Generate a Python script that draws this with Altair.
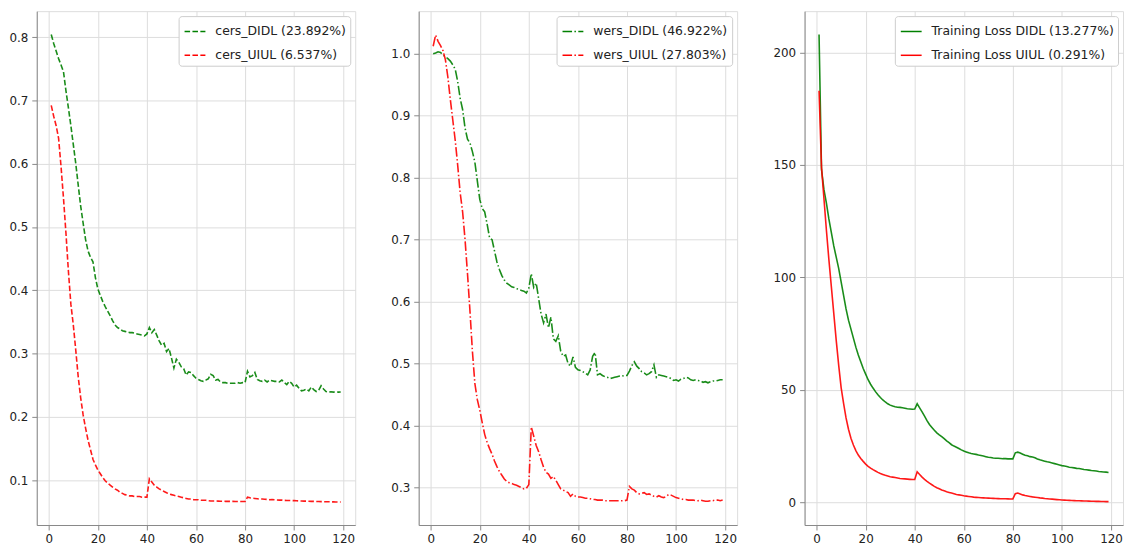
import altair as alt
import pandas as pd

epochs = list(range(1, 120))

cers_didl = [0.804, 0.790, 0.778, 0.766, 0.756, 0.745, 0.715, 0.688, 0.660, 0.630,
             0.600, 0.566, 0.533, 0.506, 0.480, 0.462, 0.452, 0.445, 0.420, 0.402,
             0.392, 0.382, 0.374, 0.367, 0.360, 0.352, 0.345, 0.341, 0.339, 0.336,
             0.335, 0.334, 0.333, 0.333, 0.332, 0.331, 0.330, 0.329, 0.328, 0.331,
             0.341, 0.333, 0.338, 0.329, 0.320, 0.313, 0.316, 0.303, 0.308, 0.293,
             0.277, 0.291, 0.286, 0.279, 0.276, 0.266, 0.271, 0.270, 0.265, 0.261,
             0.259, 0.257, 0.256, 0.258, 0.260, 0.267, 0.265, 0.258, 0.259, 0.255,
             0.254, 0.254, 0.253, 0.253, 0.253, 0.253, 0.254, 0.253, 0.254, 0.254,
             0.272, 0.263, 0.265, 0.270, 0.259, 0.257, 0.256, 0.258, 0.255, 0.258,
             0.257, 0.256, 0.256, 0.255, 0.258, 0.254, 0.251, 0.256, 0.253, 0.247,
             0.250, 0.245, 0.241, 0.242, 0.244, 0.241, 0.247, 0.243, 0.240, 0.242,
             0.249, 0.244, 0.240, 0.239, 0.2395, 0.239, 0.2392, 0.23892, 0.2391]

cers_uiul = [0.692, 0.675, 0.660, 0.640, 0.595, 0.545, 0.490, 0.430, 0.378, 0.345,
             0.305, 0.263, 0.230, 0.203, 0.182, 0.163, 0.148, 0.133, 0.124, 0.116,
             0.110, 0.104, 0.099, 0.095, 0.092, 0.089, 0.086, 0.084, 0.081, 0.079,
             0.077, 0.076, 0.075, 0.075, 0.074, 0.074, 0.074, 0.073, 0.073, 0.073,
             0.102, 0.097, 0.092, 0.089, 0.086, 0.084, 0.082, 0.080, 0.078, 0.077,
             0.076, 0.075, 0.074, 0.073, 0.072, 0.071, 0.070, 0.070, 0.069, 0.069,
             0.069, 0.068, 0.068, 0.068, 0.0675, 0.067, 0.067, 0.067, 0.0668, 0.0666,
             0.0665, 0.0664, 0.0664, 0.0663, 0.0663, 0.0662, 0.0662, 0.0662, 0.0661, 0.0661,
             0.073, 0.072, 0.0715, 0.071, 0.0705, 0.070, 0.070, 0.0698, 0.0695, 0.069,
             0.0692, 0.0688, 0.0685, 0.0683, 0.0684, 0.068, 0.0678, 0.0677, 0.0676, 0.0675,
             0.0673, 0.0671, 0.0670, 0.0668, 0.0667, 0.0666, 0.0664, 0.0663, 0.0662, 0.0661,
             0.0660, 0.0659, 0.0658, 0.0657, 0.0656, 0.0655, 0.06545, 0.0654, 0.06537]

wers_didl = [1.000, 1.001, 1.003, 1.002, 0.998, 0.995, 0.992, 0.988, 0.982, 0.975,
             0.955, 0.928, 0.910, 0.880, 0.862, 0.856, 0.842, 0.825, 0.795, 0.765,
             0.750, 0.745, 0.725, 0.703, 0.700, 0.682, 0.664, 0.652, 0.642, 0.635,
             0.630, 0.627, 0.624, 0.623, 0.621, 0.620, 0.618, 0.617, 0.614, 0.622,
             0.645, 0.623, 0.630, 0.605, 0.580, 0.566, 0.580, 0.558, 0.575, 0.540,
             0.536, 0.545, 0.520, 0.512, 0.514, 0.500, 0.496, 0.511, 0.494, 0.490,
             0.489, 0.487, 0.485, 0.482, 0.490, 0.512, 0.518, 0.482, 0.484, 0.481,
             0.479, 0.478, 0.476, 0.477, 0.478, 0.479, 0.480, 0.480, 0.481, 0.481,
             0.488, 0.497, 0.503, 0.496, 0.492, 0.487, 0.485, 0.482, 0.484, 0.487,
             0.498, 0.478, 0.482, 0.481, 0.480, 0.479, 0.478, 0.476, 0.473, 0.474,
             0.472, 0.475, 0.476, 0.478, 0.477, 0.474, 0.473, 0.474, 0.473, 0.472,
             0.470, 0.471, 0.46922, 0.471, 0.472, 0.472, 0.473, 0.474, 0.474]

wers_uiul = [1.012, 1.030, 1.020, 1.013, 1.005, 0.990, 0.962, 0.926, 0.893, 0.860,
             0.820, 0.776, 0.745, 0.700, 0.645, 0.585, 0.520, 0.468, 0.442, 0.425,
             0.405, 0.386, 0.373, 0.363, 0.354, 0.343, 0.334, 0.326, 0.320, 0.314,
             0.310, 0.308, 0.307, 0.305, 0.304, 0.302, 0.300, 0.298, 0.299, 0.305,
             0.398, 0.383, 0.368, 0.358, 0.345, 0.333, 0.325, 0.322, 0.315, 0.318,
             0.312, 0.305, 0.298, 0.296, 0.294, 0.292, 0.286, 0.290, 0.286, 0.285,
             0.285, 0.284, 0.283, 0.283, 0.282, 0.281, 0.281, 0.280, 0.280, 0.280,
             0.279, 0.279, 0.279, 0.279, 0.279, 0.279, 0.279, 0.279, 0.279, 0.280,
             0.302, 0.298, 0.296, 0.292, 0.290, 0.291, 0.292, 0.289, 0.290, 0.288,
             0.286, 0.285, 0.287, 0.285, 0.284, 0.286, 0.289, 0.288, 0.286, 0.284,
             0.283, 0.282, 0.281, 0.281, 0.280, 0.280, 0.280, 0.279, 0.279, 0.280,
             0.279, 0.278, 0.27803, 0.279, 0.279, 0.280, 0.280, 0.279, 0.280]

loss_didl = [208, 148, 139, 133, 126, 120, 114, 109, 104, 98,
             92, 86, 81, 77, 73, 69, 65.5, 62.5, 59.5, 57,
             54.5, 52.5, 50.8, 49.2, 47.8, 46.6, 45.5, 44.6, 43.8, 43.2,
             42.8, 42.5, 42.3, 42.2, 42.0, 41.8, 41.6, 41.5, 41.4, 41.5,
             43.8, 42.0, 40.2, 38.3, 36.3, 34.6, 33.3, 32.0, 30.9, 30.0,
             29.2, 28.3, 27.3, 26.5, 25.6, 25.0, 24.5, 23.9, 23.3, 22.8,
             22.4, 22.0, 21.7, 21.5, 21.3, 21.0, 20.8, 20.6, 20.3, 20.0,
             19.9, 19.7, 19.6, 19.6, 19.5, 19.4, 19.4, 19.3, 19.3, 19.3,
             22.0, 22.3, 21.9, 21.4, 20.9, 20.7, 20.3, 20.1, 19.8, 19.3,
             18.9, 18.6, 18.3, 18.0, 17.8, 17.5, 17.2, 16.9, 16.6, 16.3,
             16.1, 15.9, 15.6, 15.5, 15.3, 15.1, 15.0, 14.8, 14.6, 14.5,
             14.3, 14.1, 14.0, 13.9, 13.7, 13.6, 13.5, 13.4, 13.277]

loss_uiul = [183, 149, 135, 121, 108, 96, 84, 72, 61, 51,
             44, 37.5, 32.5, 28.5, 25.5, 23.0, 21.0, 19.5, 18.2, 17.0,
             16.0, 15.2, 14.5, 13.9, 13.3, 12.8, 12.4, 12.0, 11.7, 11.4,
             11.2, 11.0, 10.8, 10.6, 10.5, 10.4, 10.3, 10.2, 10.1, 10.1,
             13.6, 12.4, 11.2, 10.2, 9.3, 8.5, 7.8, 7.1, 6.5, 6.0,
             5.5, 5.1, 4.7, 4.4, 4.1, 3.8, 3.5, 3.3, 3.1, 2.9,
             2.75, 2.6, 2.45, 2.3, 2.2, 2.1, 2.0, 1.95, 1.9, 1.85,
             1.8, 1.75, 1.7, 1.65, 1.6, 1.58, 1.55, 1.52, 1.5, 1.5,
             3.8, 4.1, 3.7, 3.3, 3.0, 2.8, 2.6, 2.4, 2.25, 2.1,
             1.95, 1.85, 1.7, 1.6, 1.5, 1.4, 1.3, 1.2, 1.12, 1.05,
             0.98, 0.92, 0.86, 0.8, 0.75, 0.7, 0.66, 0.62, 0.58, 0.54,
             0.51, 0.48, 0.45, 0.42, 0.39, 0.36, 0.34, 0.31, 0.291]

panels = [
    ("cers_DIDL (23.892%)", cers_didl, "cers_UIUL (6.537%)", cers_uiul,
     [0.1, 0.2, 0.3, 0.4, 0.5, 0.6, 0.7, 0.8], ".1f", [0.029, 0.841], [5.55, 2.4]),
    ("wers_DIDL (46.922%)", wers_didl, "wers_UIUL (27.803%)", wers_uiul,
     [0.3, 0.4, 0.5, 0.6, 0.7, 0.8, 0.9, 1.0], ".1f", [0.2398, 1.0686], [9.6, 2.4, 1.5, 2.4]),
    ("Training Loss DIDL (13.277%)", loss_didl, "Training Loss UIUL (0.291%)", loss_uiul,
     [0, 50, 100, 150, 200], "d", [-10.1, 218.4], None),
]

x_ticks = [0, 20, 40, 60, 80, 100, 120]
FONT = "DejaVu Sans"
TICK_FS = 12

charts = []
for name_a, vals_a, name_b, vals_b, yticks, yfmt, ydom, dash in panels:
    df = pd.DataFrame({
        "epoch": epochs + epochs,
        "value": vals_a + vals_b,
        "series": [name_a] * len(epochs) + [name_b] * len(epochs),
    })
    legend = alt.Legend(
        title=None, orient="top-right", offset=5, fillColor="white",
        strokeColor="#cccccc", cornerRadius=3, padding=4, symbolOffset=1,
        symbolType="stroke", symbolSize=441, symbolStrokeWidth=1.5,
        labelFont=FONT, labelFontSize=12.5, labelColor="#222222",
        labelOffset=9, labelLimit=400, rowPadding=6,
    )
    enc = dict(
        x=alt.X("epoch:Q", scale=alt.Scale(domain=[-4.9, 124.9], nice=False, zero=False),
                axis=alt.Axis(values=x_ticks, title=None, format="d", labelPadding=4,
                              labelFont=FONT, labelFontSize=TICK_FS, labelColor="#222222")),
        y=alt.Y("value:Q", scale=alt.Scale(domain=ydom, nice=False, zero=False),
                axis=alt.Axis(values=yticks, title=None, format=yfmt, labelPadding=4,
                              labelFont=FONT, labelFontSize=TICK_FS, labelColor="#222222",
                              minExtent=28, maxExtent=28)),
        color=alt.Color("series:N", sort=[name_a, name_b],
                        scale=alt.Scale(domain=[name_a, name_b], range=["green", "red"]),
                        legend=legend),
        order=alt.Order("epoch:Q"),
    )
    if dash is not None:
        enc["strokeDash"] = alt.StrokeDash(
            "series:N", sort=[name_a, name_b],
            scale=alt.Scale(domain=[name_a, name_b], range=[dash, dash]),
            legend=legend)
    ch = alt.Chart(df).mark_line(strokeWidth=1.6, strokeOpacity=0.9).encode(**enc).properties(
        width=321, height=518)
    charts.append(ch)

chart = alt.hconcat(*charts, spacing=34).resolve_scale(
    color="independent", strokeDash="independent", x="independent", y="independent"
).resolve_legend(
    color="independent", strokeDash="independent"
).properties(padding=0).configure_view(
    stroke="#222222", strokeWidth=1
).configure_axis(
    grid=True, gridColor="#bdbdbd", gridWidth=1, domain=False,
    tickColor="#222222", tickSize=3.5, tickWidth=0.8,
).configure(background="white")

chart.save("out.html", embed_options={"renderer": "svg", "actions": False})
